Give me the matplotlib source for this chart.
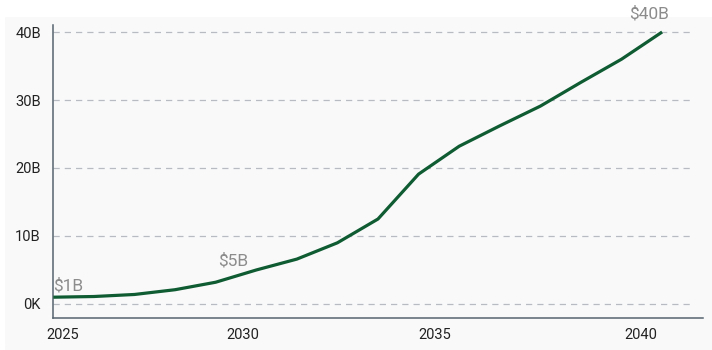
import matplotlib.pyplot as plt
from matplotlib.patches import Rectangle

# market size projection, billions of dollars
years = [2025, 2026, 2027, 2028, 2029, 2030, 2031, 2032,
         2033, 2034, 2035, 2036, 2037, 2038, 2039, 2040]
market_b = [1.0, 1.1, 1.4, 2.1, 3.2, 5.0, 6.6, 9.0,
            12.5, 19.1, 23.2, 26.2, 29.1, 32.6, 36.0, 40.0]

y_ticks = [0, 10, 20, 30, 40]
y_labels = ['0K', '10B', '20B', '30B', '40B']
x_labels = ['2025', '2030', '2035', '2040']
x_tick_pos = [2025.23, 2029.68, 2034.39, 2039.48]

# callouts: (year, text, pixel offset, alignment)
callouts = [
    (2025, '$1B', (0, 4), 'left'),
    (2030, '$5B', (-8, 1), 'right'),
    (2040, '$40B', (-13, 11), 'center'),
]

plt.rcParams['font.family'] = ['Roboto', 'DejaVu Sans']

fig = plt.figure(figsize=(7.12, 3.5), dpi=100)
# light panel behind the plot area
panel = Rectangle((5 / 712, 0), 1, 333 / 350, transform=fig.transFigure,
                  facecolor='#f9f9fa', edgecolor='none', zorder=-10)
fig.add_artist(panel)

ax = fig.add_axes([53.3 / 712, 32 / 350, 649.4 / 712, 293 / 350])
ax.set_zorder(1)
ax.set_facecolor('none')

ax.plot(years, market_b, color='#0f5b32', linewidth=2.3, solid_capstyle='butt', zorder=3)

for year, text, offset, ha in callouts:
    value = market_b[years.index(year)]
    ax.annotate(text, (year, value), xytext=offset, textcoords='offset pixels',
                ha=ha, va='bottom', fontsize=12.5, color='#8c8c8c', zorder=4,
                annotation_clip=False)

ax.set_xlim(2025, 2041)
ax.set_ylim(-2.06, 41.03)

ax.set_yticks(y_ticks)
ax.set_yticklabels(y_labels)
ax.set_xticks(x_tick_pos)
ax.set_xticklabels(x_labels)
ax.tick_params(axis='both', length=0, labelsize=10.5, colors='#222222')
ax.tick_params(axis='y', pad=9)
ax.tick_params(axis='x', pad=7)

# dashed horizontal gridlines stop a little short of the axis end
for yv in y_ticks:
    ax.axhline(yv, xmin=0, xmax=0.985, linestyle=(0, (5, 4)), color='#b8bcc2',
               linewidth=0.9, zorder=1)

for side in ['top', 'right']:
    ax.spines[side].set_visible(False)
for side in ['left', 'bottom']:
    ax.spines[side].set_color('#56646f')
    ax.spines[side].set_linewidth(1.1)

fig.savefig('out.png', dpi=100)
